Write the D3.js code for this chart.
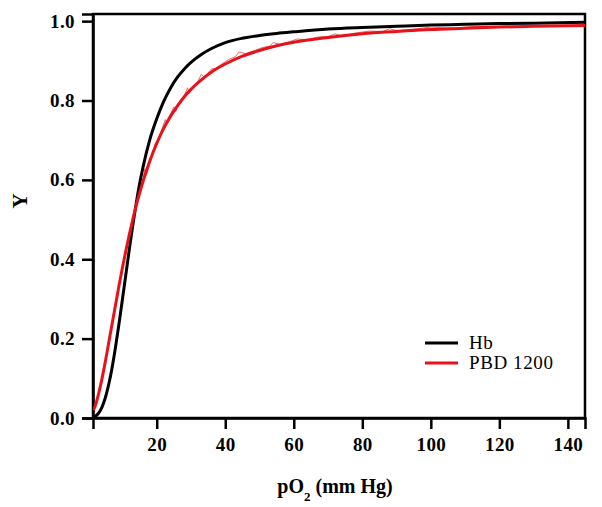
<!DOCTYPE html>
<html>

<head>
    <meta charset="utf-8">
    <style>
        body {
            margin: 0;
            background: white;
        }

        svg {
            display: block;
            font-family: 'Liberation Serif', 'Times New Roman', serif;
        }

        .tick text {
            font-size: 19px;
            font-weight: bold;
        }
    </style>
</head>

<body>
    <svg width="602" height="507"></svg>
</body>

<script src="https://d3js.org/d3.v7.min.js"></script>

<script>
    let pO2 = [1.5, 2, 3, 4, 5, 6, 7, 8, 9, 10, 11, 12, 13, 14, 15, 16, 18, 20, 22, 24, 26, 28, 30,
        33, 36, 40, 45, 50, 55, 60, 70, 80, 90, 100, 110, 120, 130, 145];

    // fractional saturation, Hb
    let hbY = [0.002, 0.004, 0.012, 0.027, 0.051, 0.085, 0.128, 0.180, 0.238, 0.300, 0.362, 0.425,
        0.485, 0.540, 0.590, 0.632, 0.702, 0.754, 0.797, 0.831, 0.858, 0.879, 0.896, 0.916, 0.931,
        0.946, 0.957, 0.964, 0.969, 0.973, 0.980, 0.984, 0.987, 0.990, 0.992, 0.994, 0.995, 0.997];

    // fractional saturation, PBD 1200 (fit)
    let pbdY = [0.020, 0.029, 0.060, 0.098, 0.142, 0.190, 0.238, 0.286, 0.334, 0.379, 0.422, 0.462,
        0.500, 0.535, 0.567, 0.596, 0.648, 0.692, 0.729, 0.760, 0.786, 0.809, 0.828, 0.852, 0.872,
        0.892, 0.912, 0.926, 0.938, 0.947, 0.959, 0.968, 0.974, 0.979, 0.982, 0.985, 0.987, 0.989];

    // raw PBD 1200 trace (thin, noisy)
    let rawP = [14, 16, 16.5, 17, 19, 19.5, 20, 21, 22.5, 23, 24, 25, 25.5, 27, 28, 29, 29.5, 31, 32,
        33, 34, 35, 36, 37, 39, 41, 43, 44, 46, 48, 51, 53, 54, 56, 58, 61, 64, 67, 70, 72, 74, 78,
        82, 86, 88, 90, 95, 100, 106, 112, 118, 124, 130];
    let rawY = [0.535, 0.600, 0.628, 0.612, 0.670, 0.690, 0.697, 0.715, 0.752, 0.744, 0.765, 0.784,
        0.772, 0.802, 0.812, 0.832, 0.818, 0.840, 0.848, 0.866, 0.858, 0.870, 0.880, 0.880, 0.892,
        0.903, 0.911, 0.922, 0.918, 0.924, 0.934, 0.937, 0.946, 0.941, 0.946, 0.955, 0.953, 0.960,
        0.961, 0.968, 0.963, 0.970, 0.975, 0.974, 0.981, 0.976, 0.980, 0.985, 0.982, 0.986, 0.987,
        0.988, 0.988];

    let xTicks = [20, 40, 60, 80, 100, 120, 140];
    let yTicks = [0, 0.2, 0.4, 0.6, 0.8, 1.0];

    let series = [
        { name: "Hb", values: hbY, color: "#000000" },
        { name: "PBD 1200", values: pbdY, color: "#e8121a" }
    ];

    let margin = { top: 14, right: 17, bottom: 89, left: 93 };
    let width = 602 - margin.left - margin.right;
    let height = 507 - margin.top - margin.bottom;

    let svg = d3.select("svg");
    let g = svg.append("g")
        .attr("transform", `translate(${margin.left},${margin.top})`);

    let x = d3.scaleLinear()
        .domain([1.4, 145])
        .range([0, width]);

    let y = d3.scaleLinear()
        .domain([0, 1.018])
        .range([height, 0]);

    // frame
    g.append("rect")
        .attr("width", width)
        .attr("height", height)
        .style("fill", "none")
        .style("stroke", "#000")
        .style("stroke-width", 2.5);

    let xAxis = g.append("g")
        .attr("transform", `translate(0,${height})`)
        .call(d3.axisBottom(x).tickValues(xTicks).tickFormat(d3.format("d"))
            .tickSize(11).tickPadding(9));

    let yAxis = g.append("g")
        .call(d3.axisLeft(y).tickValues(yTicks).tickFormat(d3.format(".1f"))
            .tickSize(11).tickPadding(7));

    [xAxis, yAxis].forEach(a => {
        a.select(".domain").style("stroke", "#000").style("stroke-width", 2.5);
        a.selectAll(".tick line").style("stroke", "#000").style("stroke-width", 2.5);
        a.selectAll(".tick text").style("fill", "#000")
            .style("font-family", "'Liberation Serif', serif")
            .style("letter-spacing", "0.4px");
    });

    let line = d3.line()
        .x((d, i) => x(pO2[i]))
        .y(d => y(d))
        .curve(d3.curveMonotoneX);

    g.append("clipPath").attr("id", "clip")
        .append("rect").attr("width", width).attr("height", height);

    let plot = g.append("g").attr("clip-path", "url(#clip)");

    // Hb
    plot.append("path")
        .datum(series[0].values)
        .attr("d", line)
        .style("fill", "none")
        .style("stroke", series[0].color)
        .style("stroke-width", 3);

    // raw PBD trace underneath the fit
    plot.append("path")
        .datum(rawY)
        .attr("d", d3.line()
            .x((d, i) => x(rawP[i]))
            .y(d => y(d)))
        .style("fill", "none")
        .style("stroke", "#e05a5a")
        .style("stroke-width", 0.9);

    plot.append("path")
        .datum(series[1].values)
        .attr("d", line)
        .style("fill", "none")
        .style("stroke", series[1].color)
        .style("stroke-width", 3);

    // legend
    let legend = g.append("g")
        .attr("transform", "translate(332,329)");

    let items = legend.selectAll("g")
        .data(series)
        .join("g")
        .attr("transform", (d, i) => `translate(0,${i * 20})`);

    items.append("line")
        .attr("x1", 0).attr("x2", 33)
        .style("stroke", d => d.color)
        .style("stroke-width", 3);

    items.append("text")
        .attr("x", 44)
        .attr("y", 6)
        .style("font-size", "19px")
        .style("letter-spacing", "0.6px")
        .text(d => d.name);

    // axis titles
    let xTitle = svg.append("text")
        .attr("x", margin.left + width / 2 - 4)
        .attr("y", 493)
        .attr("text-anchor", "middle")
        .style("font-size", "20px")
        .style("font-weight", "bold");
    xTitle.append("tspan").text("pO");
    xTitle.append("tspan").attr("baseline-shift", "sub").style("font-size", "13px").text("2");
    xTitle.append("tspan").text(" (mm Hg)");

    svg.append("text")
        .attr("transform", "translate(27,201) rotate(-90)")
        .attr("text-anchor", "middle")
        .style("font-size", "21px")
        .style("font-weight", "bold")
        .text("Y");
</script>

</html>
